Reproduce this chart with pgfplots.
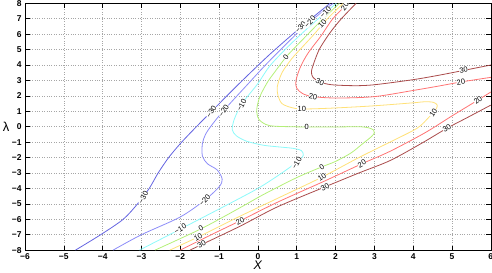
\documentclass[border=0pt]{standalone}
\usepackage{pgfplots}
\pgfplotsset{compat=1.18}
\usepackage{fontspec}
\setmainfont{Liberation Sans}
\definecolor{cmA}{RGB}{100,100,225}
\definecolor{cmB}{RGB}{140,140,248}
\definecolor{cmC}{RGB}{140,250,250}
\definecolor{cZ}{RGB}{180,240,120}
\definecolor{cA}{RGB}{255,225,120}
\definecolor{cB}{RGB}{255,115,115}
\definecolor{cC}{RGB}{170,75,75}
\tikzset{clab/.style={font=\fontsize{7.5}{7.5}\selectfont, fill=white, inner sep=0.2bp, text=black}}
\begin{document}
\begin{tikzpicture}
\begin{axis}[name=ax, scale only axis, width=465.6bp, height=246.7bp,
  xmin=-6, xmax=6, ymin=-8, ymax=8,
  xtick={-6,-5,...,6}, ytick={-8,-7,...,8},
  xticklabels={−6,−5,−4,−3,−2,−1,0,1,2,3,4,5,6},
  yticklabels={−8,−7,−6,−5,−4,−3,−2,−1,0,1,2,3,4,5,6,7,8},
  tick align=inside, major tick length=4.5bp,
  tick style={black, line width=0.5bp},
  axis line style={line width=0.6bp},
  grid=major,
  major grid style={gray!70, line width=0.5bp, dash pattern=on 0.6bp off 1.8bp},
  ticklabel style={font=\fontsize{8.5}{9}\selectfont\bfseries},
  xlabel={\textit{X}}, ylabel={λ},
  every axis x label/.style={at={(axis description cs:0.5,0)}, anchor=center, yshift=-15.5bp, font=\fontsize{12.5}{12.5}\selectfont, inner sep=0pt},
  every axis y label/.style={at={(axis description cs:0,0.5)}, anchor=center, xshift=-19bp, font=\fontsize{13}{13}\selectfont},
  every axis plot/.append style={line width=0.8bp, smooth, tension=0.5},
]
% -30
\addplot[cmA] coordinates {(-4.7,-8) (-4.05,-7.0) (-3.47,-6.0) (-3.1,-5.0) (-2.8,-4.0) (-2.57,-3.0) (-2.3,-2.0) (-2.0,-1.1) (-1.67,-0.22) (-1.16,1.08) (-0.5,2.75) (0.31,4.7) (1.13,6.5) (1.86,8)};
% -20
\addplot[cmB] coordinates {(-3.73,-8) (-3.0,-7.0) (-2.0,-5.85) (-1.37,-4.76) (-1.0,-3.9) (-0.92,-3.4) (-1.05,-2.8) (-1.3,-2.4) (-1.43,-1.9) (-1.43,-1.1) (-1.35,-0.5) (-1.19,0.1) (-0.9,1.0) (-0.3,2.65) (0.31,4.3) (1.2,6.5) (1.94,8)};
% -10
\addplot[cmC] coordinates {(-3.05,-8) (-1.97,-6.6) (-0.72,-4.97) (0.0,-4.0) (0.5,-3.2) (0.87,-2.55) (1.08,-2.15) (1.17,-1.85) (1.12,-1.55) (0.9,-1.4) (0.5,-1.3) (0.14,-1.2) (-0.28,-0.95) (-0.55,-0.6) (-0.66,-0.2) (-0.62,0.4) (-0.5,1.1) (-0.35,1.7) (0.0,2.8) (0.31,3.95) (0.82,5.3) (1.42,6.7) (2.02,8)};
% 0
\addplot[cZ] coordinates {(2.1,8) (1.68,7.0) (1.32,6.08) (0.98,5.2) (0.72,4.5) (0.45,3.6) (0.25,2.9) (0.05,1.95) (-0.03,1.1) (0.02,0.5) (0.2,0.15) (0.45,0.03) (1.26,-0.02) (2.0,-0.02) (2.6,0.0) (2.85,-0.07) (2.98,-0.22) (3.0,-0.4) (2.92,-0.65) (2.7,-1.1) (2.4,-1.7) (2.0,-2.25) (1.65,-2.6) (1.0,-3.3) (0.14,-4.4) (-0.46,-5.25) (-1.45,-6.6) (-2.65,-8)};
% 10
\addplot[cA] coordinates {(2.2,8) (1.79,7.0) (1.45,6.0) (1.12,5.1) (0.87,4.4) (0.62,3.5) (0.5,2.6) (0.52,2.0) (0.62,1.5) (0.85,1.25) (1.13,1.15) (1.86,1.2) (2.96,1.35) (4.0,1.55) (4.3,1.62) (4.52,1.58) (4.62,1.4) (4.58,1.1) (4.4,0.6) (4.1,-0.1) (3.4,-1.0) (2.6,-2.0) (1.65,-3.27) (0.5,-4.65) (-0.46,-5.8) (-1.5,-7.1) (-2.27,-8)};
% 20 upper
\addplot[cB] coordinates {(2.32,8) (1.93,7.0) (1.63,5.9) (1.3,4.8) (1.1,3.9) (0.98,3.0) (1.0,2.5) (1.15,2.15) (1.42,1.95) (2.03,1.86) (3.0,1.95) (4.0,2.35) (4.69,2.65) (5.23,2.9) (6,3.2)};
% 20 lower
\addplot[cB] coordinates {(-2.0,-8) (-1.2,-7.0) (-0.46,-6.1) (0.5,-4.9) (1.65,-3.6) (2.68,-2.4) (3.4,-1.6) (4.3,-0.4) (5.0,0.7) (5.67,1.73) (6,2.25)};
% 30 upper
\addplot[cC] coordinates {(2.53,8) (2.15,7.0) (1.86,6.1) (1.6,5.1) (1.47,4.33) (1.38,3.6) (1.42,3.2) (1.6,2.9) (1.9,2.72) (2.5,2.66) (3.0,2.72) (4.0,3.05) (4.69,3.35) (5.3,3.65) (6,4.0)};
% 30 lower
\addplot[cC] coordinates {(-1.75,-8) (-1.45,-7.64) (-0.46,-6.45) (0.5,-5.2) (1.73,-3.9) (2.6,-3.0) (3.4,-2.2) (4.2,-1.1) (4.87,-0.1) (5.4,0.6) (6,1.4)};
% labels
\node[clab, rotate=62] at (axis cs:-2.95,-4.6) {−30};
\node[clab, rotate=48] at (axis cs:-1.37,-4.76) {−20};
\node[clab, rotate=30] at (axis cs:-2.0,-6.62) {−10};
\node[clab, rotate=30] at (axis cs:-1.47,-6.6) {0};
\node[clab, rotate=30] at (axis cs:-1.54,-7.18) {10};
\node[clab, rotate=28] at (axis cs:-1.45,-7.64) {30};
\node[clab, rotate=28] at (axis cs:-0.46,-6.1) {20};
\node[clab, rotate=60] at (axis cs:1.0,-2.36) {−10};
\node[clab, rotate=35] at (axis cs:1.65,-2.6) {0};
\node[clab, rotate=33] at (axis cs:1.65,-3.27) {10};
\node[clab, rotate=30] at (axis cs:1.73,-3.9) {30};
\node[clab, rotate=30] at (axis cs:2.68,-2.4) {20};
\node[clab, rotate=55] at (axis cs:4.52,0.9) {10};
\node[clab, rotate=35] at (axis cs:5.67,1.73) {20};
\node[clab, rotate=30] at (axis cs:4.87,-0.1) {30};
\node[clab, rotate=12] at (axis cs:5.3,3.65) {30};
\node[clab, rotate=9] at (axis cs:5.23,2.9) {20};
\node[clab, rotate=-25] at (axis cs:1.6,2.9) {30};
\node[clab, rotate=-8] at (axis cs:1.42,1.95) {20};
\node[clab] at (axis cs:1.13,1.15) {10};
\node[clab] at (axis cs:1.26,-0.02) {0};
\node[clab, rotate=52] at (axis cs:0.72,4.5) {0};
\node[clab, rotate=58] at (axis cs:-1.2,0.98) {−30};
\node[clab, rotate=58] at (axis cs:-0.88,1.05) {−20};
\node[clab, rotate=62] at (axis cs:-0.42,1.4) {−10};
\node[clab, rotate=48] at (axis cs:1.1,6.45) {−30};
\node[clab, rotate=48] at (axis cs:1.34,6.8) {−20};
\node[clab, rotate=48] at (axis cs:1.66,6.65) {10};
\node[clab, rotate=48] at (axis cs:1.74,7.4) {−10};
\node[clab, rotate=55] at (axis cs:2.24,7.8) {20};
\end{axis}
\pgfresetboundingbox
\path ([xshift=-25bp,yshift=-22bp]ax.south west) rectangle ([xshift=1.2bp,yshift=3.3bp]ax.north east);
\end{tikzpicture}
\end{document}
